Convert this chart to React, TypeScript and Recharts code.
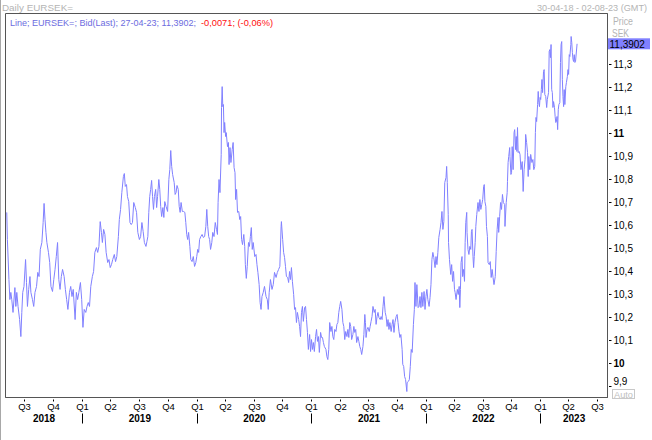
import React from "react";
import { LineChart, Line, XAxis, YAxis, ReferenceArea } from "recharts";

// ---- data (day offsets from START, closing price SEK per EUR) ----
const START = "2018-04-30";
const END = "2023-08-02";
const LAST_PRICE = 11.3902;

const dayOffsets: number[] = [
  4, 6, 11, 14, 17, 20, 24, 30, 33, 36, 40, 45, 49, 52, 55, 59, 64, 67, 70, 74,
  78, 81, 86, 90, 94, 99, 103, 107, 111, 116, 120, 123, 126, 129, 132, 137, 141, 145, 150, 154,
  158, 162, 166, 170, 174, 178, 182, 187, 191, 195, 199, 204, 208, 212, 216, 222, 226, 230, 234, 239,
  243, 247, 251, 256, 260, 264, 268, 272, 277, 281, 285, 290, 294, 298, 302, 306, 309, 313, 317, 321,
  326, 330, 334, 338, 342, 347, 351, 355, 360, 363, 367, 371, 376, 379, 382, 386, 389, 393, 397, 401,
  405, 409, 414, 418, 422, 427, 431, 435, 439, 443, 448, 451, 454, 457, 460, 463, 466, 469, 472, 475,
  479, 482, 485, 489, 492, 495, 498, 502, 505, 508, 512, 517, 521, 524, 527, 530, 533, 538, 541, 544,
  547, 551, 554, 557, 560, 564, 568, 572, 575, 578, 581, 584, 588, 591, 595, 599, 603, 607, 610, 613,
  616, 619, 623, 627, 631, 635, 639, 642, 645, 648, 651, 654, 658, 661, 665, 669, 673, 676, 678, 681,
  684, 688, 689, 691, 693, 695, 697, 699, 702, 704, 708, 711, 713, 716, 719, 723, 726, 729, 732, 734,
  737, 740, 744, 747, 750, 753, 756, 760, 763, 765, 768, 771, 775, 778, 781, 784, 787, 790, 795, 799,
  802, 805, 809, 812, 815, 818, 822, 826, 831, 835, 838, 841, 845, 850, 854, 858, 863, 867, 871, 875,
  879, 880, 884, 887, 890, 893, 896, 900, 903, 906, 909, 912, 915, 919, 922, 925, 928, 931, 935, 938,
  941, 944, 947, 950, 954,
  957, 960, 963, 966, 970, 973, 976, 979, 982, 985, 989, 992, 995, 998, 1001, 1005, 1008, 1011, 1014, 1017,
  1022, 1025, 1028, 1031, 1034, 1038, 1041, 1044, 1047, 1050, 1054, 1057, 1060, 1063, 1066, 1069, 1073, 1076, 1079, 1082,
  1085, 1089, 1092, 1095, 1098, 1101, 1104, 1108, 1111, 1114, 1117, 1120, 1124, 1127, 1130, 1133, 1136, 1140, 1143, 1146,
  1148, 1150, 1153, 1156, 1160, 1163, 1166, 1169, 1172, 1176, 1179, 1182, 1185, 1188, 1191, 1195, 1198, 1201, 1204, 1207,
  1211, 1214, 1217, 1220, 1223, 1226, 1230, 1233, 1236, 1239, 1242, 1246, 1249, 1252, 1255, 1258, 1261, 1265, 1267, 1270,
  1273, 1276, 1280, 1281, 1285, 1288, 1291, 1294, 1297, 1301, 1304, 1306, 1309, 1312, 1316, 1319, 1322, 1325, 1328, 1331,
  1335, 1338, 1341, 1344, 1347, 1351, 1354, 1357, 1360, 1363, 1366, 1370, 1373, 1376, 1379, 1382, 1386, 1389, 1392, 1395,
  1398, 1401, 1405, 1407, 1409, 1412, 1413, 1416, 1420, 1423, 1426, 1429, 1432,
  1434, 1437, 1441, 1444, 1447, 1449, 1451, 1453, 1456, 1458, 1461, 1464, 1466, 1468, 1471, 1472, 1475, 1478, 1481, 1484,
  1486, 1488, 1491, 1493, 1495, 1498, 1500, 1503, 1507, 1510, 1513, 1516, 1519, 1522, 1525, 1527, 1529, 1532, 1534, 1537,
  1539, 1543, 1546, 1549, 1552, 1555, 1558, 1562, 1565, 1568, 1571, 1573, 1576, 1579, 1582, 1585, 1588, 1592, 1593, 1597,
  1600, 1601, 1603, 1605, 1608, 1609, 1612, 1614, 1616, 1619, 1622, 1624, 1627, 1629, 1631, 1633, 1635, 1638, 1641, 1644,
  1648, 1651, 1654, 1657, 1659, 1662, 1665, 1667, 1669, 1672, 1675, 1679, 1682, 1685, 1688, 1690, 1692, 1694, 1697, 1699,
  1701, 1703, 1705, 1707, 1709, 1711, 1713, 1716, 1718, 1720, 1723, 1726, 1728, 1732, 1734, 1736, 1738, 1740, 1742, 1744,
  1746, 1748, 1751, 1753, 1755, 1757, 1759, 1761, 1763, 1765, 1768, 1770, 1772, 1774, 1776, 1778, 1780, 1782, 1784, 1787,
  1789, 1792, 1794, 1796, 1798, 1800, 1803, 1804, 1806, 1808, 1810, 1812, 1814, 1816, 1818, 1823,
];

const prices: number[] = [
  10.657, 10.539, 10.365, 10.278, 10.309, 10.278, 10.222, 10.330, 10.248, 10.309, 10.248, 10.191, 10.117, 10.222, 10.309, 10.335, 10.452, 10.352, 10.248, 10.322,
  10.378, 10.309, 10.278, 10.248, 10.309, 10.335, 10.396, 10.378, 10.496, 10.526, 10.613, 10.696, 10.626, 10.570, 10.526, 10.483, 10.439, 10.335, 10.313, 10.365,
  10.409, 10.465, 10.526, 10.365, 10.322, 10.378, 10.409, 10.378, 10.322, 10.278, 10.235, 10.309, 10.335, 10.291, 10.322, 10.191, 10.309, 10.278, 10.309, 10.352,
  10.278, 10.157, 10.235, 10.222, 10.248, 10.265, 10.248, 10.335, 10.378, 10.400, 10.483, 10.504, 10.483, 10.509, 10.617, 10.570, 10.526, 10.583, 10.561, 10.483,
  10.439, 10.452, 10.417, 10.430, 10.452, 10.474, 10.443, 10.465, 10.552, 10.626, 10.670, 10.743, 10.813, 10.826, 10.770, 10.778, 10.726, 10.704, 10.613, 10.604,
  10.613, 10.700, 10.678, 10.657, 10.570, 10.539, 10.552, 10.613, 10.574, 10.526, 10.509, 10.530, 10.552, 10.657, 10.726, 10.757, 10.796, 10.726, 10.670, 10.726,
  10.757, 10.678, 10.726, 10.800, 10.757, 10.683, 10.639, 10.678, 10.635, 10.704, 10.683, 10.661, 10.800, 10.843, 10.926, 10.857, 10.822, 10.787, 10.735, 10.743,
  10.774, 10.757, 10.683, 10.657, 10.700, 10.661, 10.661, 10.657, 10.613, 10.561, 10.539, 10.570, 10.509, 10.452, 10.443, 10.465, 10.422, 10.439, 10.465, 10.496,
  10.483, 10.539, 10.552, 10.561, 10.548, 10.552, 10.596, 10.670, 10.596, 10.552, 10.539, 10.496, 10.526, 10.570, 10.552, 10.613, 10.583, 10.561, 10.700, 10.800,
  10.743, 10.909, 11.113, 11.204, 11.117, 11.126, 11.004, 11.048, 10.987, 11.004, 10.943, 10.961, 10.865, 10.939, 10.874, 10.930, 10.961, 10.852, 10.830, 10.713,
  10.757, 10.657, 10.661, 10.626, 10.639, 10.539, 10.517, 10.561, 10.509, 10.430, 10.370, 10.422, 10.526, 10.509, 10.552, 10.591, 10.496, 10.526, 10.465, 10.474,
  10.430, 10.396, 10.343, 10.265, 10.235, 10.291, 10.309, 10.335, 10.291, 10.278, 10.235, 10.309, 10.365, 10.322, 10.343, 10.396, 10.374, 10.396, 10.409, 10.422,
  10.596, 10.617, 10.539, 10.483, 10.461, 10.422, 10.378, 10.374, 10.352, 10.400, 10.365, 10.417, 10.357, 10.300, 10.235, 10.243, 10.178, 10.222, 10.191, 10.161,
  10.117, 10.222, 10.248, 10.183, 10.243,
  10.248, 10.191, 10.135, 10.061, 10.126, 10.052, 10.104, 10.061, 10.091, 10.052, 10.117, 10.148, 10.096, 10.117, 10.048, 10.135, 10.113, 10.113, 10.091, 10.074,
  10.061, 10.030, 10.017, 10.061, 10.178, 10.139, 10.161, 10.117, 10.104, 10.148, 10.139, 10.170, 10.178, 10.222, 10.248, 10.270, 10.235, 10.178, 10.161, 10.104,
  10.139, 10.117, 10.148, 10.113, 10.178, 10.161, 10.104, 10.126, 10.161, 10.135, 10.148, 10.091, 10.117, 10.096, 10.074, 10.061, 10.039, 10.074, 10.126, 10.213,
  10.178, 10.113, 10.148, 10.157, 10.139, 10.161, 10.183, 10.204, 10.248, 10.222, 10.235, 10.170, 10.204, 10.222, 10.200, 10.191, 10.204, 10.191, 10.248, 10.291,
  10.222, 10.204, 10.161, 10.191, 10.148, 10.178, 10.139, 10.170, 10.191, 10.135, 10.178, 10.204, 10.213, 10.178, 10.139, 10.113, 10.126, 10.061, 9.996, 9.987,
  9.943, 9.930, 9.878, 9.917, 9.922, 9.930, 9.987, 10.061, 10.048, 10.170, 10.235, 10.352, 10.248, 10.343, 10.243, 10.248, 10.291, 10.243, 10.309, 10.248,
  10.313, 10.235, 10.291, 10.322, 10.278, 10.248, 10.287, 10.343, 10.452, 10.483, 10.461, 10.417, 10.465, 10.430, 10.483, 10.548, 10.583, 10.613, 10.661, 10.583,
  10.617, 10.787, 10.809, 10.857, 10.787, 10.648, 10.526, 10.452, 10.387, 10.430, 10.357, 10.400, 10.322,
  10.309, 10.278, 10.322, 10.300, 10.335, 10.243, 10.322, 10.439, 10.465, 10.378, 10.409, 10.357, 10.526, 10.613, 10.657, 10.570, 10.496, 10.474, 10.509, 10.496,
  10.574, 10.583, 10.465, 10.417, 10.465, 10.526, 10.596, 10.648, 10.700, 10.661, 10.713, 10.670, 10.691, 10.713, 10.770, 10.778, 10.704, 10.683, 10.596, 10.552,
  10.439, 10.430, 10.443, 10.374, 10.409, 10.374, 10.343, 10.378, 10.487, 10.583, 10.635, 10.570, 10.639, 10.700, 10.670, 10.735, 10.700, 10.691, 10.596, 10.700,
  10.743, 10.791, 10.874, 10.900, 10.939, 10.900, 10.822, 10.830, 10.943, 10.843, 11.004, 11.017, 10.930, 10.987, 10.922, 11.026, 10.917, 10.922, 10.909, 10.843,
  10.878, 10.748, 10.843, 10.887, 10.996, 10.961, 10.917, 10.813, 10.900, 10.843, 10.909, 10.874, 10.887, 10.843, 10.857, 11.004, 11.070, 11.052, 11.126, 11.183,
  11.135, 11.117, 11.157, 11.148, 11.191, 11.235, 11.178, 11.270, 11.278, 11.170, 11.161, 11.113, 11.148, 11.178, 11.357, 11.365, 11.330, 11.387, 11.191, 11.178,
  11.113, 11.139, 11.113, 11.074, 11.048, 11.052, 11.074, 11.017, 11.104, 11.126, 11.135, 11.309, 11.387, 11.400, 11.235, 11.161, 11.117, 11.191, 11.126, 11.204,
  11.222, 11.248, 11.278, 11.257, 11.343, 11.335, 11.387, 11.422, 11.396, 11.352, 11.322, 11.313, 11.343, 11.309, 11.313, LAST_PRICE,
];

const quarterDates: string[] = [
  "2018-07-01", "2018-10-01",
  "2019-01-01", "2019-04-01", "2019-07-01", "2019-10-01",
  "2020-01-01", "2020-04-01", "2020-07-01", "2020-10-01",
  "2021-01-01", "2021-04-01", "2021-07-01", "2021-10-01",
  "2022-01-01", "2022-04-01", "2022-07-01", "2022-10-01",
  "2023-01-01", "2023-04-01", "2023-07-01",
];
const years: number[] = [2018, 2019, 2020, 2021, 2022, 2023];
const priceTicks: number[] = [9.9, 10, 10.1, 10.2, 10.3, 10.4, 10.5, 10.6, 10.7, 10.8, 10.9, 11, 11.1, 11.2, 11.3];
const Y_MIN = 9.852;
const Y_MAX = 11.522;

// ---- derived ----
const DAY_MS = 86400000;
const START_MS = Date.parse(START + "T00:00:00Z");
const toDays = (iso: string) => (Date.parse(iso + "T00:00:00Z") - START_MS) / DAY_MS;
const TOTAL = toDays(END);
const data = dayOffsets.map((t, i) => ({ t, price: prices[i] }));
const quarterTicks = quarterDates.map(toDays);
const yearTicks = years.map((y) => {
  const s = Math.max(0, toDays(`${y}-01-01`));
  const e = Math.min(TOTAL, toDays(`${y + 1}-01-01`));
  return (s + e) / 2;
});
const yTicks = [...priceTicks, LAST_PRICE];

const FONT = "'Liberation Sans', Arial, sans-serif";
const snap = (v: number) => Math.round(v - 0.5) + 0.5;

const QuarterTick = (props: any) => {
  const { x, y, payload } = props;
  const d = new Date(START_MS + payload.value * DAY_MS);
  const q = Math.floor(d.getUTCMonth() / 3) + 1;
  const sx = snap(x);
  return (
    <g>
      <line x1={sx} x2={sx} y1={y + 2} y2={y + 4} stroke="#000" strokeWidth={1} />
      <text x={sx} y={y + 12.5} textAnchor="middle" fontSize={9.5} fontFamily={FONT} fill="#000">
        {`Q${q}`}
      </text>
      {q === 1 && <line x1={sx} x2={sx} y1={y + 16} y2={y + 26} stroke="#000" strokeWidth={1} />}
    </g>
  );
};

const YearTick = (props: any) => {
  const { x, y, payload } = props;
  const d = new Date(START_MS + payload.value * DAY_MS);
  return (
    <text x={x} y={y + 12} textAnchor="middle" fontSize={10} fontWeight="bold" fontFamily={FONT} fill="#000">
      {String(d.getUTCFullYear())}
    </text>
  );
};

const PriceTick = (props: any) => {
  const { x, y, payload } = props;
  const v: number = payload.value;
  if (Math.abs(v - LAST_PRICE) < 1e-9) {
    return (
      <g>
        <rect x={x + 0.5} y={y - 5.5} width={42} height={11} fill="#8080ff" />
        <text x={x + 2} y={y + 4} fontSize={10} fontFamily={FONT} fill="#000">
          {v.toFixed(4).replace(".", ",")}
        </text>
      </g>
    );
  }
  const isInt = Math.abs(v - Math.round(v)) < 1e-6;
  const label = isInt ? String(Math.round(v)) : v.toFixed(1).replace(".", ",");
  const dy = v < 9.95 ? -5 : 0;
  const sy = snap(y);
  return (
    <g>
      <line x1={x + 1.5} x2={x + 4} y1={sy} y2={sy} stroke="#000" strokeWidth={1} />
      <text x={x + 6} y={y + dy + 3.5} fontSize={10} fontWeight={isInt ? "bold" : "normal"} fontFamily={FONT} fill="#000">
        {label}
      </text>
    </g>
  );
};

export default function App() {
  return (
    <div style={{ position: "absolute", left: 0, top: 0, width: 652, height: 440, background: "#fff" }}>
      <LineChart width={652} height={440} data={data} margin={{ top: 13.5, right: 0, bottom: 0, left: 5.5 }}>
        <XAxis
          xAxisId="q"
          dataKey="t"
          type="number"
          domain={[0, TOTAL]}
          allowDataOverflow
          ticks={quarterTicks}
          interval={0}
          height={12}
          tickLine={false}
          tickSize={0}
          tickMargin={0}
          axisLine={{ stroke: "#555" }}
          tick={<QuarterTick />}
        />
        <XAxis
          xAxisId="yr"
          dataKey="t"
          type="number"
          domain={[0, TOTAL]}
          allowDataOverflow
          ticks={yearTicks}
          interval={0}
          height={30.5}
          tickLine={false}
          tickSize={0}
          tickMargin={0}
          axisLine={false}
          tick={<YearTick />}
        />
        <YAxis
          yAxisId="p"
          orientation="right"
          width={44.5}
          type="number"
          domain={[Y_MIN, Y_MAX]}
          allowDataOverflow
          ticks={yTicks}
          interval={0}
          tickLine={false}
          tickSize={0}
          tickMargin={0}
          axisLine={{ stroke: "#555" }}
          tick={<PriceTick />}
        />
        <ReferenceArea
          xAxisId="q"
          yAxisId="p"
          x1={0}
          x2={TOTAL}
          y1={Y_MIN}
          y2={Y_MAX}
          fill="none"
          stroke="#555"
          strokeWidth={1}
          ifOverflow="visible"
        />
        <Line
          xAxisId="q"
          yAxisId="p"
          dataKey="price"
          type="linear"
          stroke="#8080ff"
          strokeWidth={1}
          dot={false}
          activeDot={false}
          isAnimationActive={false}
        />
      </LineChart>
      <svg
        width={652}
        height={440}
        style={{ position: "absolute", left: 0, top: 0, pointerEvents: "none" }}
        fontFamily={FONT}
      >
        <line x1={0.5} x2={0.5} y1={0} y2={440} stroke="#a8a8a8" />
        <text x={2} y={10.5} fontSize={9.5} fill="#b4b4b4" textLength={71} lengthAdjust="spacingAndGlyphs">
          Daily EURSEK=
        </text>
        <text x={537} y={10.5} fontSize={9} fill="#b4b4b4" textLength={110} lengthAdjust="spacingAndGlyphs">
          30-04-18 - 02-08-23 (GMT)
        </text>
        <text x={10} y={26} fontSize={9} fill="#6c6ce0" textLength={186} lengthAdjust="spacingAndGlyphs">
          Line; EURSEK=; Bid(Last); 27-04-23; 11,3902;
        </text>
        <text x={201} y={26} fontSize={9} fill="#ff1010" textLength={72} lengthAdjust="spacingAndGlyphs">
          -0,0071; (-0,06%)
        </text>
        <text x={613} y={25} fontSize={10} fill="#b4b4b4" textLength={20} lengthAdjust="spacingAndGlyphs">
          Price
        </text>
        <text x={612} y={37} fontSize={10} fill="#b4b4b4" textLength={17} lengthAdjust="spacingAndGlyphs">
          SEK
        </text>
        <rect x={612.5} y={389.5} width={22} height={9} fill="#fff" stroke="#c8c8c8" />
        <text x={614} y={397.5} fontSize={9.5} fill="#c0c0c0" textLength={19} lengthAdjust="spacingAndGlyphs">
          Auto
        </text>
      </svg>
    </div>
  );
}
